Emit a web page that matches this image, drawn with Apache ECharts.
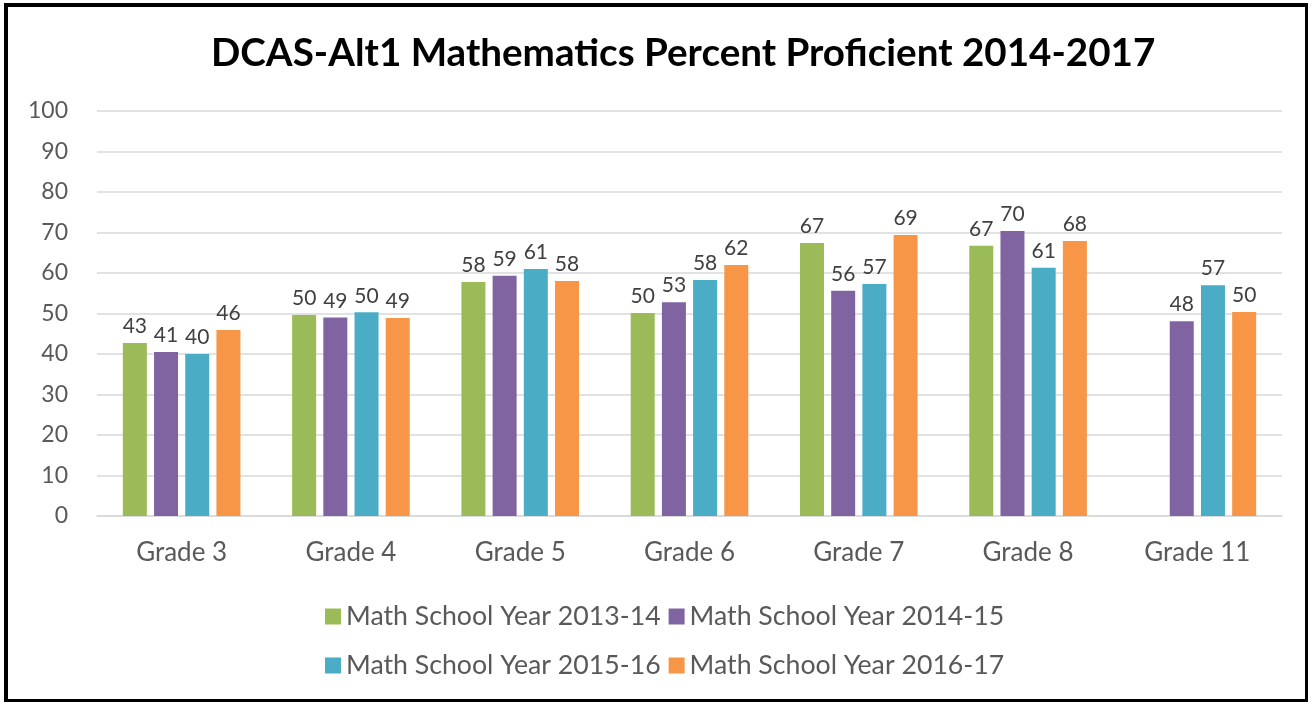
<!DOCTYPE html>
<html>
<head>
<meta charset="utf-8">
<script src="https://cdn.jsdelivr.net/npm/echarts@6/dist/echarts.min.js"></script>
<style>
  html, body { margin: 0; padding: 0; background: #fff; }
  #chart { width: 1311px; height: 702px; }
  #frame {
    position: absolute; left: 4px; top: 3px; width: 1297px; height: 692px;
    border: 4px solid #000; border-right-width: 3px; border-bottom-width: 3px;
    pointer-events: none;
  }
</style>
</head>
<body>
<div id="chart"></div>
<div id="frame"></div>
<script>
// grades on the x axis
const grades = ["Grade 3", "Grade 4", "Grade 5", "Grade 6", "Grade 7", "Grade 8", "Grade 11"];
const seriesNames = [
  "Math School Year 2013-14",
  "Math School Year 2014-15",
  "Math School Year 2015-16",
  "Math School Year 2016-17",
];
// percent proficient
const year1314 = [42.7, 49.6, 57.8, 50.1, 67.4, 66.7, null];
const year1415 = [40.5, 49.0, 59.3, 52.8, 55.6, 70.4, 48.1];
const year1516 = [40.0, 50.3, 61.0, 58.3, 57.3, 61.3, 57.0];
const year1617 = [45.9, 48.9, 58.0, 62.0, 69.4, 67.9, 50.4];
const yTicks = [0, 10, 20, 30, 40, 50, 60, 70, 80, 90, 100];

const colors = ["#9bbb59", "#8064a2", "#4bacc6", "#f79646"];
const values = [year1314, year1415, year1516, year1617];
const font = "Lato, 'Open Sans', sans-serif";

let chart = echarts.init(document.getElementById("chart"));

let series = seriesNames.map((name, i) => ({
  name: name,
  type: "bar",
  data: values[i],
  barWidth: 24,
  barGap: "30%",
  itemStyle: { color: colors[i] },
  label: {
    show: true,
    position: "top",
    distance: 6,
    color: "#404040",
    fontFamily: font,
    fontSize: 21,
    formatter: (p) => Math.round(p.value),
  },
}));

let legendStyle = {
  icon: "rect",
  itemWidth: 16,
  itemHeight: 16,
  itemGap: 8,
  textStyle: { color: "#595959", fontFamily: font, fontSize: 26.7 },
};

chart.setOption({
  animation: false,
  title: {
    text: "DCAS-Alt1 Mathematics Percent Proficient 2014-2017",
    left: 206,
    top: 29,
    textStyle: { color: "#000", fontFamily: font, fontWeight: "bold", fontSize: 38.6 },
  },
  legend: [
    Object.assign({ data: seriesNames.slice(0, 2), left: 320, top: 598 }, legendStyle),
    Object.assign({ data: seriesNames.slice(2, 4), left: 320, top: 647 }, legendStyle),
  ],
  grid: { left: 97, right: 29, top: 111, bottom: 186 },
  xAxis: {
    type: "category",
    data: grades,
    axisLine: { lineStyle: { color: "#d9d9d9", width: 1.5 } },
    axisTick: { show: false },
    axisLabel: { color: "#595959", fontFamily: font, fontSize: 26, margin: 24 },
  },
  yAxis: {
    type: "value",
    min: yTicks[0],
    max: yTicks[yTicks.length - 1],
    interval: 10,
    axisLine: { show: false },
    axisTick: { show: false },
    axisLabel: { color: "#595959", fontFamily: font, fontSize: 23, margin: 29 },
    splitLine: { lineStyle: { color: "#d9d9d9", width: 1.5 } },
  },
  series: series,
});
</script>
</body>
</html>
